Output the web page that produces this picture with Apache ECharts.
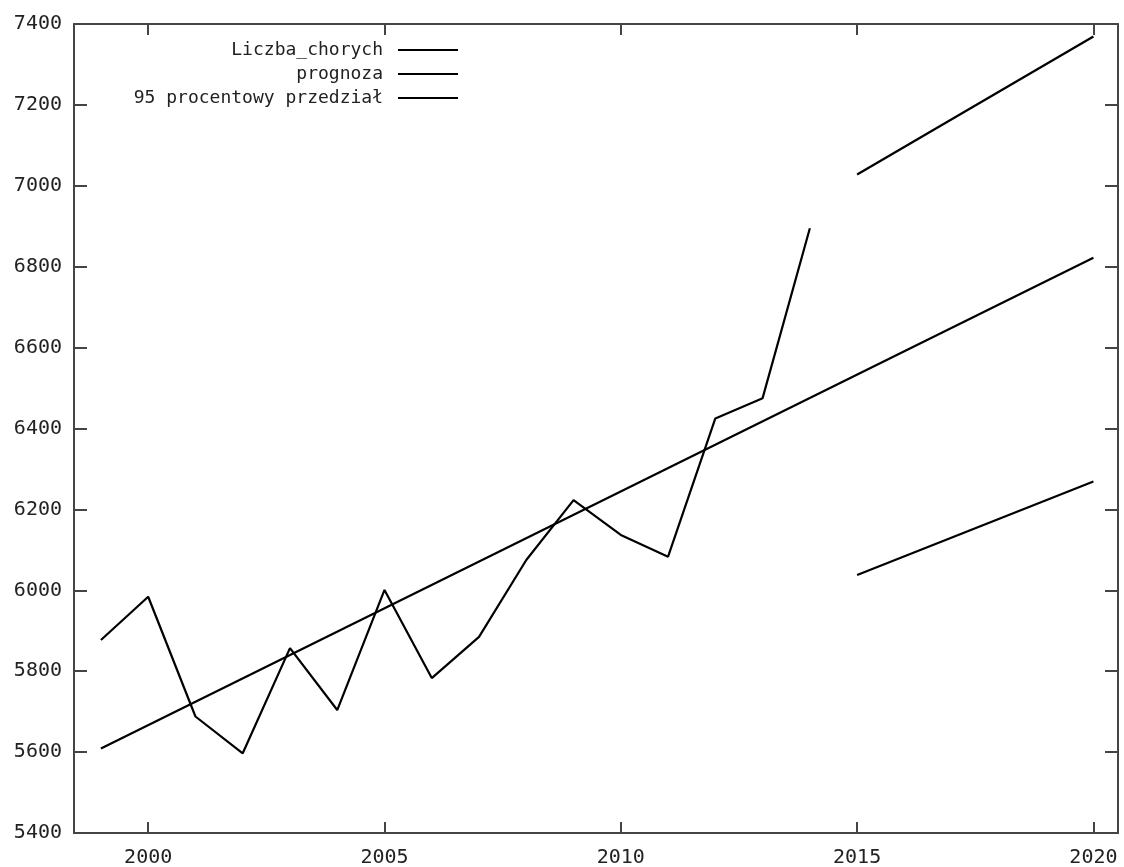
<!DOCTYPE html>
<html>
<head>
<meta charset="utf-8">
<script src="https://cdn.jsdelivr.net/npm/echarts@6/dist/echarts.min.js"></script>
<style>html,body{margin:0;padding:0;background:#fff}#c{width:1124px;height:867px}</style>
</head>
<body>
<div id="c"></div>
<script>
// Data
var years = [1999, 2000, 2001, 2002, 2003, 2004, 2005, 2006, 2007, 2008, 2009, 2010, 2011, 2012, 2013, 2014];
var liczbaChorych = [5877, 5984, 5688, 5597, 5857, 5704, 6001, 5783, 5885, 6075, 6223, 6137, 6083, 6425, 6475, 6895];
var prognozaYears = [1999, 2020];
var prognoza = [5609, 6822];
var przedzialYears = [2015, 2020];
var przedzialGorny = [7028, 7369];
var przedzialDolny = [6038, 6269];
var xTickValues = [2000, 2005, 2010, 2015, 2020];
var names = ['Liczba_chorych', 'prognoza', '95 procentowy przedział'];

function pairs(xs, ys) { return xs.map(function (x, i) { return [x, ys[i]]; }); }

var FONT = 'DejaVu Sans Mono';
var lineStyle = { color: '#000', width: 2.2 };
function lineSeries(name, data) {
  return {
    name: name, type: 'line', data: data, showSymbol: false, symbol: 'none',
    lineStyle: lineStyle, itemStyle: { color: '#000' }, silent: true, z: 3
  };
}
var axisLine = { show: true, lineStyle: { color: '#444', width: 2 } };
function plain(v) { return String(v); }

var chart = echarts.init(document.getElementById('c'), null, { renderer: 'canvas' });
chart.setOption({
  animation: false,
  backgroundColor: '#fff',
  grid: { left: 74, right: 6, top: 24, bottom: 34, outerBoundsMode: 'none' },
  legend: {
    orient: 'vertical', align: 'right', right: 661, top: 33,
    icon: 'rect', itemWidth: 60, itemHeight: 2, itemGap: 0,
    data: names, selectedMode: false,
    textStyle: { fontFamily: FONT, fontSize: 18, color: '#222', lineHeight: 24, padding: [0, 10, 0, 0] }
  },
  xAxis: [{
    type: 'value', position: 'bottom', min: 1998.43, max: 2020.52,
    axisLine: axisLine, splitLine: { show: false },
    axisTick: { show: true, inside: true, length: 11, customValues: xTickValues, lineStyle: { color: '#444', width: 2 } },
    axisLabel: { customValues: xTickValues, formatter: plain, fontFamily: FONT, fontSize: 20, color: '#222', margin: 15 }
  }, {
    type: 'value', position: 'top', min: 1998.43, max: 2020.52,
    axisLine: axisLine, splitLine: { show: false },
    axisTick: { show: true, inside: true, length: 11, customValues: xTickValues, lineStyle: { color: '#444', width: 2 } },
    axisLabel: { show: false }
  }],
  yAxis: [{
    type: 'value', position: 'left', min: 5400, max: 7400, interval: 200,
    axisLine: axisLine, splitLine: { show: false },
    axisTick: { show: true, inside: true, length: 13, lineStyle: { color: '#444', width: 2 } },
    axisLabel: { formatter: plain, fontFamily: FONT, fontSize: 20, color: '#222', margin: 12 }
  }, {
    type: 'value', position: 'right', min: 5400, max: 7400, interval: 200,
    axisLine: axisLine, splitLine: { show: false },
    axisTick: { show: true, inside: true, length: 13, lineStyle: { color: '#444', width: 2 } },
    axisLabel: { show: false }
  }],
  series: [
    lineSeries(names[0], pairs(years, liczbaChorych)),
    lineSeries(names[1], pairs(prognozaYears, prognoza)),
    lineSeries(names[2], pairs(przedzialYears, przedzialGorny)),
    lineSeries(names[2], pairs(przedzialYears, przedzialDolny))
  ]
});
</script>
</body>
</html>
